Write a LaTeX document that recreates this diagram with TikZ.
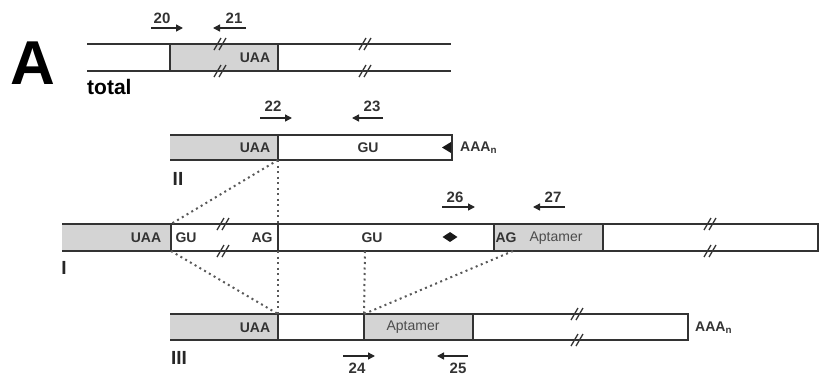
\documentclass[tikz,border=0pt]{standalone}
\usepackage{fontspec}
\setmainfont{Liberation Sans}
\usetikzlibrary{arrows.meta,shapes.geometric}

\tikzset{
    strand/.style={draw=black!80, line width=1.5pt},
    exon/.style={fill=black!17},
    seq/.style={font=\bfseries\fontsize{14}{14}\selectfont, text=black!80, inner sep=0pt},
    apt/.style={font=\fontsize{14}{14}\selectfont, text=black!70, inner sep=0pt},
    num/.style={font=\bfseries\fontsize{15}{15}\selectfont, text=black!80, inner sep=0pt},
    rowlbl/.style={font=\bfseries\fontsize{19}{19}\selectfont, text=black!85, inner sep=0pt},
    primer/.style={-{Triangle[length=7pt,width=7pt]}, line width=1.4pt, draw=black!85},
    link/.style={draw=black!65, line width=2pt, dash pattern=on 2pt off 3.5pt},
    brk/.pic={\draw[line width=1.3pt, draw=black!80] (-6,6) -- (1,-6) (-1,6) -- (6,-6);}
}

\begin{document}
\begin{tikzpicture}[x=1pt, y=-1pt]
    \useasboundingbox (0,0) rectangle (827,383);

    % panel letter
    \node[font=\bfseries\fontsize{62}{62}\selectfont, inner sep=0pt] (panel) at (33,63) {A};

    % total
    \fill[exon] (170,44) rectangle (278,71);
    \draw[strand] (87,44) -- (451,44) (87,71) -- (451,71);
    \draw[strand] (170,44) -- (170,71) (278,44) -- (278,71);
    \path (220,44) pic {brk} (220,71) pic {brk} (365,44) pic {brk} (365,71) pic {brk};
    \node[seq] (tUAA) at (255,58) {UAA};
    \node[font=\bfseries\fontsize{21}{21}\selectfont, inner sep=0pt, anchor=west] (total) at (87,87) {total};
    \node[num] (p20) at (162,18) {20};
    \node[num] (p21) at (234,18) {21};
    \draw[primer] ([shift={(-11,10)}]p20.center) -- ++(32,0);
    \draw[primer] ([shift={(12,10)}]p21.center) -- ++(-33,0);

    % II
    \fill[exon] (170,135) rectangle (278,160);
    \draw[strand] (170,135) -- (452,135) -- (452,160) -- (170,160);
    \draw[strand] (278,135) -- (278,160);
    \fill[black!90] (442,147.5) -- (451,142) -- (451,153) -- cycle;
    \coordinate (IIdiv) at (278,160);
    \node[seq] (iiUAA) at (255,148) {UAA};
    \node[seq] (iiGU) at (368,148) {GU};
    \node[seq, anchor=west] (iiA) at (460,148) {AAA\textsubscript{n}};
    \node[rowlbl] (II) at (178,179) {II};
    \node[num] (p22) at (273,106) {22};
    \node[num] (p23) at (372,106) {23};
    \draw[primer] ([shift={(-13,12)}]p22.center) -- ++(32,0);
    \draw[primer] ([shift={(11,12)}]p23.center) -- ++(-31,0);

    % I
    \fill[exon] (62,224) rectangle (171,251);
    \fill[exon] (494,224) rectangle (603,251);
    \draw[strand] (62,224) -- (818,224) -- (818,251) -- (62,251);
    \draw[strand] (171,224) -- (171,251) (278,224) -- (278,251)
        (494,224) -- (494,251) (603,224) -- (603,251);
    \path (223,224) pic {brk} (223,251) pic {brk} (710,224) pic {brk} (710,251) pic {brk};
    \coordinate (Itl) at (171,224);
    \coordinate (Itr) at (278,224);
    \coordinate (Ibl) at (171,251);
    \coordinate (Ibr) at (278,251);
    \coordinate (Igu) at (365,251);
    \coordinate (Iag) at (513,251);
    \node[seq] (iUAA) at (146,238) {UAA};
    \node[seq] (iGU1) at (186,238) {GU};
    \node[seq] (iAG1) at (262,238) {AG};
    \node[seq] (iGU2) at (372,238) {GU};
    \node[diamond, fill=black!90, minimum width=15pt, minimum height=10pt, inner sep=0pt] (site) at (450,237) {};
    \node[seq] (iAG2) at (506,238) {AG};
    \node[apt] (iApt) at (556,238) {Aptamer};
    \node[rowlbl] (I) at (64,268) {I};
    \node[num] (p26) at (455,197) {26};
    \node[num] (p27) at (553,197) {27};
    \draw[primer] ([shift={(-13,10)}]p26.center) -- ++(33,0);
    \draw[primer] ([shift={(12,10)}]p27.center) -- ++(-32,0);

    % III
    \fill[exon] (170,314) rectangle (278,340);
    \fill[exon] (364,314) rectangle (473,340);
    \draw[strand] (170,314) -- (688,314) -- (688,340) -- (170,340);
    \draw[strand] (278,314) -- (278,340) (364,314) -- (364,340) (473,314) -- (473,340);
    \path (577,314) pic {brk} (577,340) pic {brk};
    \coordinate (IIIdiv) at (278,314);
    \coordinate (IIIapt) at (364,314);
    \node[seq] (iiiUAA) at (255,328) {UAA};
    \node[apt] (iiiApt) at (413,327) {Aptamer};
    \node[seq, anchor=west] (iiiA) at (695,328) {AAA\textsubscript{n}};
    \node[rowlbl] (III) at (179,358) {III};
    \node[num] (p24) at (357,368) {24};
    \node[num] (p25) at (458,368) {25};
    \draw[primer] ([shift={(-14,-12)}]p24.center) -- ++(32,0);
    \draw[primer] ([shift={(10,-12)}]p25.center) -- ++(-31,0);

    % splice links
    \draw[link] (IIdiv) -- (Itl);
    \draw[link] (IIdiv) -- (Itr);
    \draw[link] (Ibl) -- (IIIdiv);
    \draw[link] (Ibr) -- (IIIdiv);
    \draw[link] (Igu) -- (IIIapt);
    \draw[link] (Iag) -- (IIIapt);
\end{tikzpicture}
\end{document}
